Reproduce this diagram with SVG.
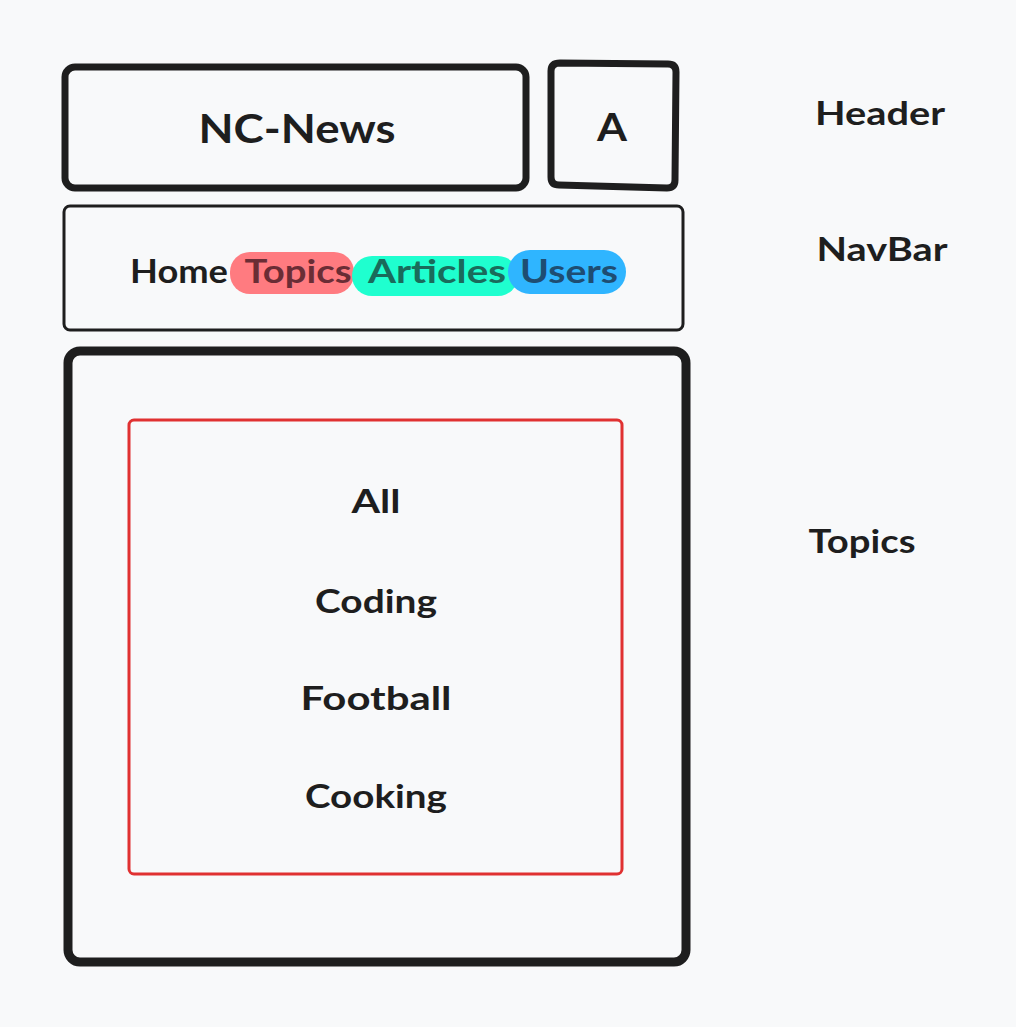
<svg xmlns="http://www.w3.org/2000/svg" width="1016" height="1027" viewBox="0 0 1016 1027">
<style>
.t{font-family:"Lato","Noto Sans","Liberation Sans",sans-serif;font-weight:700;fill:#1e1e1e;text-anchor:middle;dominant-baseline:central}
.box{fill:none;stroke:#1e1e1e;stroke-linejoin:round}
</style>
<rect width="1016" height="1027" fill="#f8f9fa"/>
<g id="header-title">
<rect class="box" x="65" y="67" width="461" height="121" rx="10" stroke-width="7"/>
<text class="t" x="297" y="128" font-size="40" textLength="197" lengthAdjust="spacingAndGlyphs">NC-News</text>
</g>
<g id="header-avatar">
<path class="box" d="M560 63 L668 64 Q676 64 676 72 L675 180 Q675 188 667 188 L559 185 Q551 185 551 177 L551 71 Q551 63 560 63 Z" stroke-width="7"/>
<text class="t" x="612" y="126" font-size="38" textLength="30" lengthAdjust="spacingAndGlyphs">A</text>
</g>
<g id="label-header"><text class="t" x="880" y="112" font-size="32" textLength="130" lengthAdjust="spacingAndGlyphs">Header</text></g>
<g id="navbar">
<rect class="box" x="64" y="206" width="619" height="124" rx="6" stroke-width="3"/>
<rect x="230" y="252" width="124" height="42" rx="20" fill="#ff7b80"/>
<rect x="352" y="256" width="166" height="40" rx="20" fill="#1fffcf"/>
<rect x="508" y="250" width="118" height="44" rx="22" fill="#2fb5ff"/>
<text class="t" x="179" y="270" font-size="32" textLength="98" lengthAdjust="spacingAndGlyphs">Home</text>
<text class="t" x="298" y="270" font-size="32" style="fill:#6a2d35" textLength="107" lengthAdjust="spacingAndGlyphs">Topics</text>
<text class="t" x="437" y="270" font-size="32" style="fill:#1a6b5b" textLength="138" lengthAdjust="spacingAndGlyphs">Articles</text>
<text class="t" x="569" y="270" font-size="32" style="fill:#1e4d72" textLength="98" lengthAdjust="spacingAndGlyphs">Users</text>
</g>
<g id="label-navbar"><text class="t" x="882" y="248" font-size="32" textLength="131" lengthAdjust="spacingAndGlyphs">NavBar</text></g>
<g id="topics">
<rect class="box" x="68" y="351" width="618" height="611" rx="12" stroke-width="9"/>
<rect x="129" y="420" width="493" height="454" rx="5" fill="none" stroke="#e03131" stroke-width="3"/>
<text class="t" x="376" y="500" font-size="32" textLength="49" lengthAdjust="spacingAndGlyphs">All</text>
<text class="t" x="376" y="600" font-size="32" textLength="122" lengthAdjust="spacingAndGlyphs">Coding</text>
<text class="t" x="376" y="697" font-size="32" textLength="151" lengthAdjust="spacingAndGlyphs">Football</text>
<text class="t" x="376" y="795" font-size="32" textLength="142" lengthAdjust="spacingAndGlyphs">Cooking</text>
</g>
<g id="label-topics"><text class="t" x="862" y="540" font-size="32" textLength="107" lengthAdjust="spacingAndGlyphs">Topics</text></g>
</svg>
